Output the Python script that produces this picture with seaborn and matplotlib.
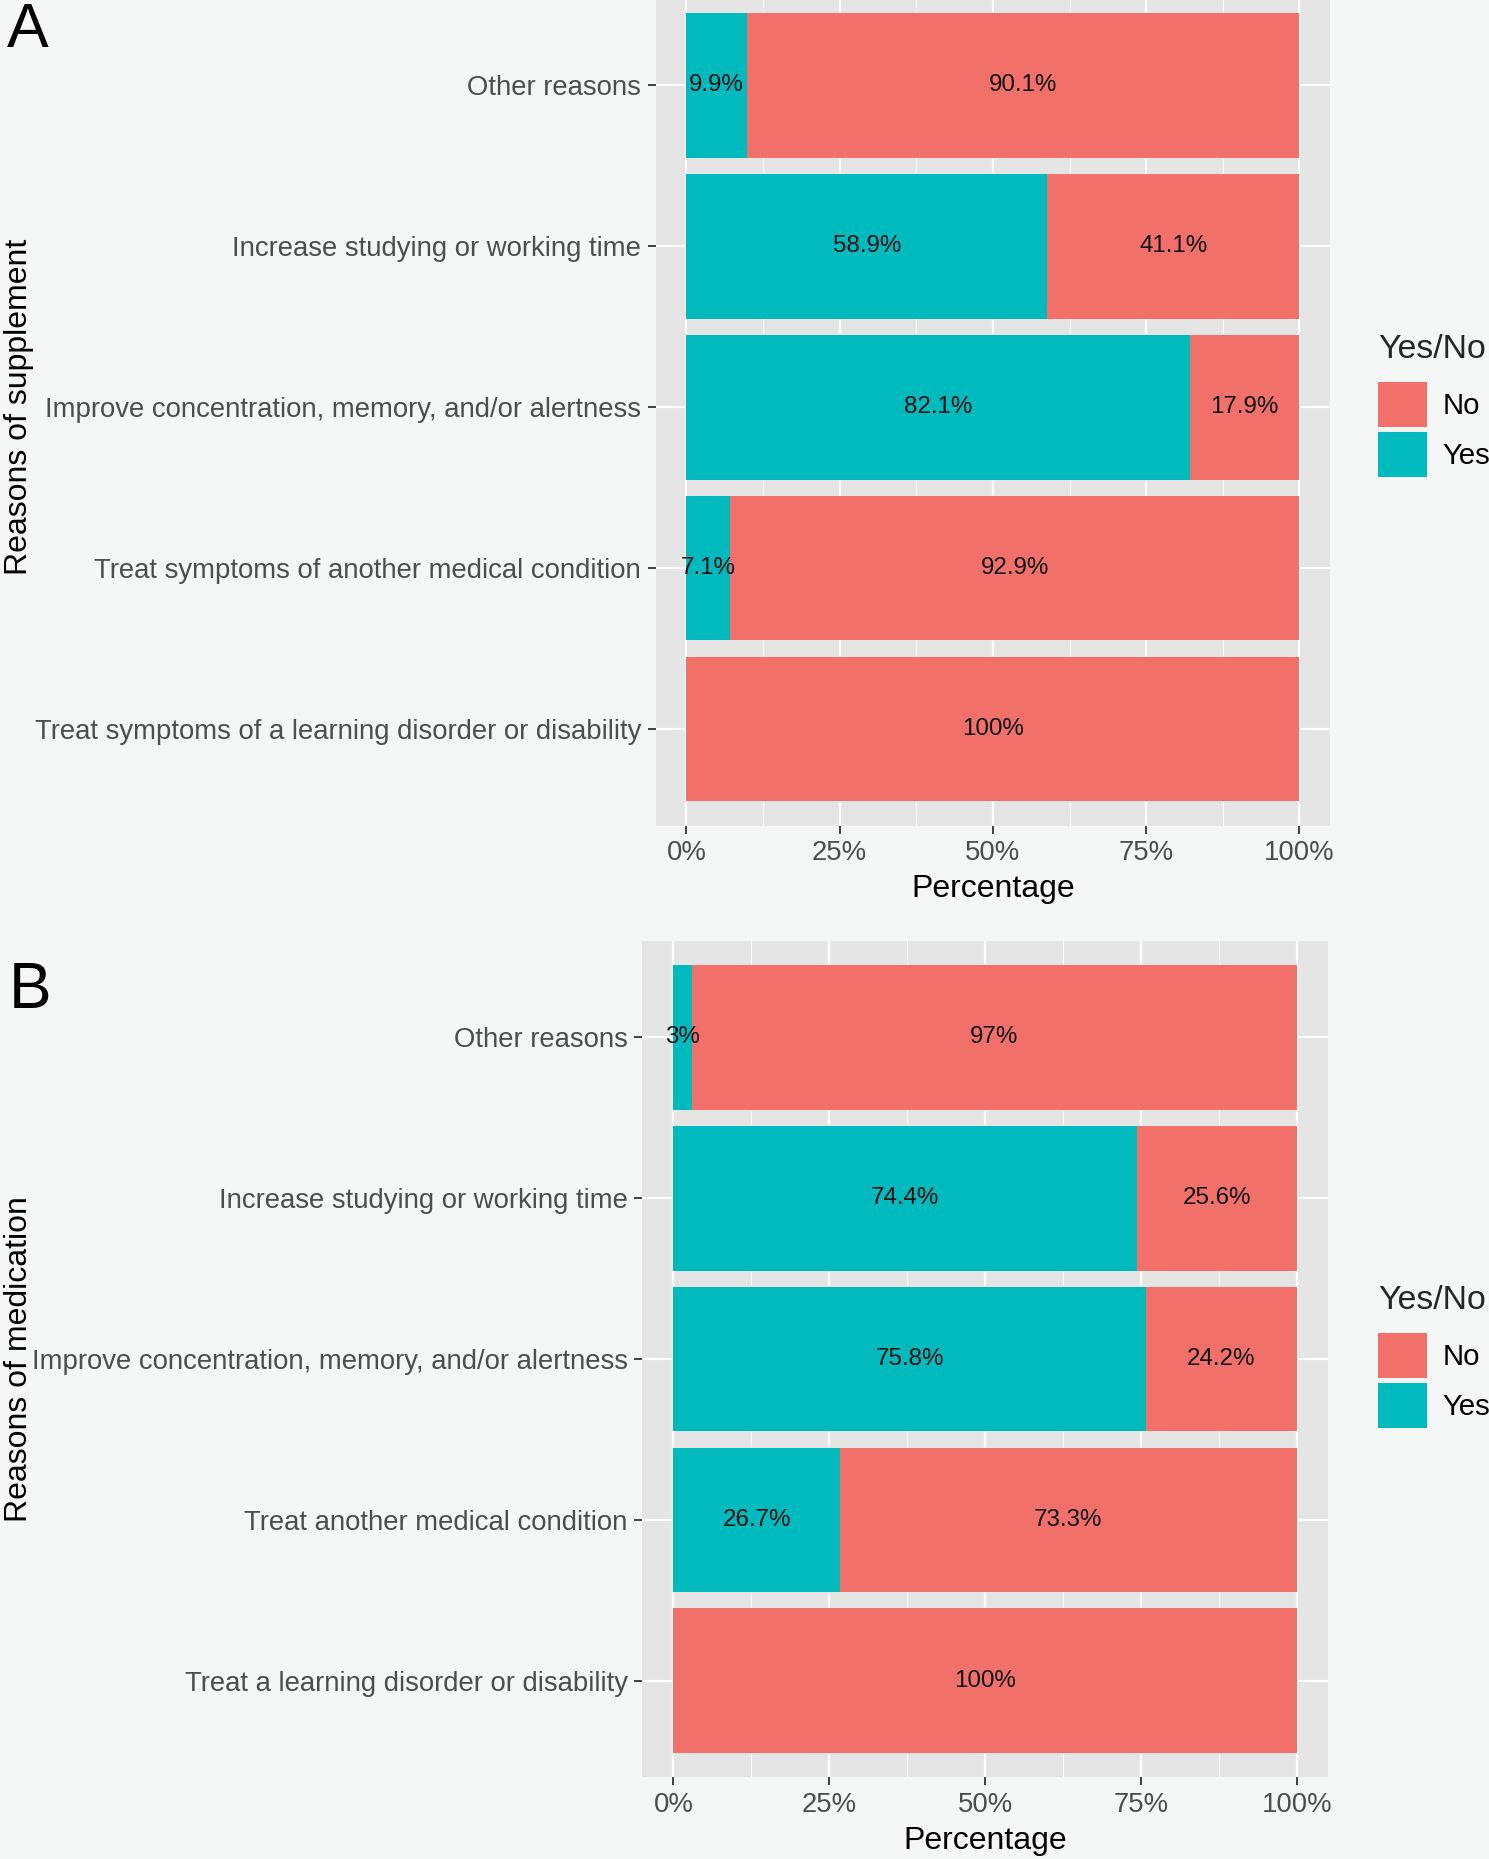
import matplotlib
matplotlib.use("Agg")
import matplotlib.pyplot as plt
from matplotlib.patches import Patch
from matplotlib.ticker import MultipleLocator, FuncFormatter
import seaborn as sns
import pandas as pd

# ---------------- data ----------------
cats_a = ["Other reasons",
          "Increase studying or working time",
          "Improve concentration, memory, and/or alertness",
          "Treat symptoms of another medical condition",
          "Treat symptoms of a learning disorder or disability"]
yes_a = [9.9, 58.9, 82.1, 7.1, 0.0]
no_a = [90.1, 41.1, 17.9, 92.9, 100.0]
yes_lab_a = ["9.9%", "58.9%", "82.1%", "7.1%", ""]
no_lab_a = ["90.1%", "41.1%", "17.9%", "92.9%", "100%"]

cats_b = ["Other reasons",
          "Increase studying or working time",
          "Improve concentration, memory, and/or alertness",
          "Treat another medical condition",
          "Treat a learning disorder or disability"]
yes_b = [3.0, 74.4, 75.8, 26.7, 0.0]
no_b = [97.0, 25.6, 24.2, 73.3, 100.0]
yes_lab_b = ["3%", "74.4%", "75.8%", "26.7%", ""]
no_lab_b = ["97%", "25.6%", "24.2%", "73.3%", "100%"]

x_ticks = [0, 25, 50, 75, 100]
legend_title = "Yes/No"
legend_labels = ["No", "Yes"]

# ---------------- style ----------------
RED = "#F1706A"
TEAL = "#00BABE"
PANEL = "#E5E5E5"
BG = "#F5F6F6"
FONT = ["Liberation Sans", "DejaVu Sans"]

sns.set_theme(style="white")
plt.rcParams["font.family"] = FONT

W, H = 1489, 1859
DPI = 100
fig = plt.figure(figsize=(W / DPI, H / DPI), dpi=DPI, facecolor=BG)


def px(v):
    return v / W


def py(v):
    return 1 - v / H


def draw_panel(ax, cats, yes, no, yes_lab, no_lab, ylab):
    df = pd.DataFrame({"cat": cats, "yes": yes, "no": no})
    df["total"] = df["yes"] + df["no"]
    ax.set_facecolor(PANEL)
    sns.barplot(data=df, x="total", y="cat", orient="h", color=RED,
                saturation=1, width=0.9, ax=ax, zorder=3, linewidth=0)
    sns.barplot(data=df, x="yes", y="cat", orient="h", color=TEAL,
                saturation=1, width=0.9, ax=ax, zorder=3, linewidth=0)
    for i, (y_, n_, yl, nl) in enumerate(zip(yes, no, yes_lab, no_lab)):
        if yl:
            ax.text(y_ / 2, i, yl, ha="center", va="center",
                    fontsize=17.4, color="#111111", zorder=5)
        if nl:
            ax.text(y_ + n_ / 2, i, nl, ha="center", va="center",
                    fontsize=17.4, color="#111111", zorder=5)
    ax.set_xlim(-5, 105)
    ax.set_ylim(len(cats) - 0.4, -0.6)
    ax.xaxis.set_major_locator(MultipleLocator(25))
    ax.xaxis.set_minor_locator(MultipleLocator(12.5))
    ax.set_xticks(x_ticks)
    ax.xaxis.set_major_formatter(FuncFormatter(lambda v, p: f"{v:g}%"))
    ax.grid(which="major", axis="both", color="white", lw=1.6, zorder=0)
    ax.grid(which="minor", axis="x", color="white", lw=0.8, zorder=0)
    ax.set_axisbelow(True)
    for s in ax.spines.values():
        s.set_visible(False)
    ax.tick_params(axis="both", which="major", length=5.5, width=1.3,
                   color="#333333", labelsize=19.8, labelcolor="#4D4D4D",
                   pad=5, left=True, bottom=True)
    ax.tick_params(axis="x", which="minor", length=0)
    ax.set_xlabel("Percentage", fontsize=23, color="black", labelpad=6)
    ax.set_ylabel(ylab, fontsize=23, color="black")


# Panel A
ax_a = fig.add_axes([px(655.8), py(825.5), 674.2 / W, 836.6 / H])
draw_panel(ax_a, cats_a, yes_a, no_a, yes_lab_a, no_lab_a, "Reasons of supplement")
ax_a.yaxis.set_label_coords(px(34), py(407), transform=fig.transFigure)

# Panel B
ax_b = fig.add_axes([px(642.2), py(1777.4), 685.9 / W, 836.6 / H])
draw_panel(ax_b, cats_b, yes_b, no_b, yes_lab_b, no_lab_b, "Reasons of medication")
ax_b.yaxis.set_label_coords(px(34), py(1359), transform=fig.transFigure)

handles = [Patch(facecolor=RED, edgecolor="none"),
           Patch(facecolor=TEAL, edgecolor="none")]
for ax, ytop in [(ax_a, 334), (ax_b, 1285)]:
    leg = ax.legend(handles, legend_labels, title=legend_title,
                    loc="upper left", bbox_to_anchor=(px(1378), py(ytop)),
                    bbox_transform=fig.transFigure, frameon=False,
                    fontsize=21.2, title_fontsize=24.4, handlelength=1.65,
                    handleheight=2.0, labelspacing=0.16, handletextpad=0.55,
                    alignment="left", borderaxespad=0, borderpad=0)
    leg._legend_box.sep = 12
    for t in leg.get_texts():
        t.set_color("black")

fig.text(px(7), py(47), "A", fontsize=45, ha="left", va="baseline", color="black")
fig.text(px(9), py(1008), "B", fontsize=46, ha="left", va="baseline", color="black")

fig.savefig("out.png", dpi=DPI, facecolor=BG)
